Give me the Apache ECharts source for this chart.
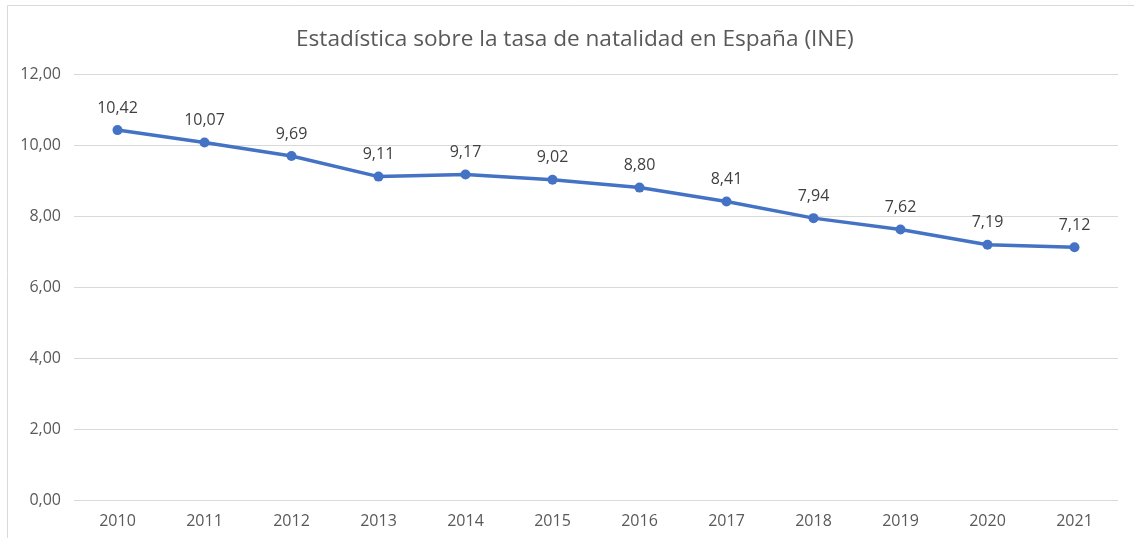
<!DOCTYPE html>
<html>
<head>
<meta charset="utf-8">
<script src="https://cdn.jsdelivr.net/npm/echarts@6/dist/echarts.min.js"></script>
<style>
  html, body { margin: 0; padding: 0; background: #fff; }
  #chart { width: 1134px; height: 538px; }
</style>
</head>
<body>
<div id="chart"></div>
<script>
// datos de natalidad (INE)
var years = ['2010', '2011', '2012', '2013', '2014', '2015', '2016', '2017', '2018', '2019', '2020', '2021'];
var tasa = [10.42, 10.07, 9.69, 9.11, 9.17, 9.02, 8.80, 8.41, 7.94, 7.62, 7.19, 7.12];

var fmt = function (v) { return v.toFixed(2).replace('.', ','); };

var chart = echarts.init(document.getElementById('chart'));
var option = {
  animation: false,
  textStyle: { fontFamily: 'Open Sans' },
  title: {
    text: 'Estadística sobre la tasa de natalidad en España (INE)',
    left: 291,
    top: 23,
    textStyle: { fontSize: 22.6, fontWeight: 'normal', color: '#595959', fontFamily: 'Open Sans' }
  },
  graphic: [{
    type: 'rect',
    silent: true,
    shape: { x: 7.5, y: 5.5, width: 1200, height: 600 },
    style: { fill: 'none', stroke: '#d9d9d9', lineWidth: 1 }
  }],
  grid: { left: 74, right: 16, top: 74, bottom: 38 },
  xAxis: {
    type: 'category',
    data: years,
    boundaryGap: true,
    axisLine: { show: false },
    axisTick: { show: false },
    axisLabel: { color: '#595959', fontSize: 16, margin: 13 }
  },
  yAxis: {
    type: 'value',
    min: 0,
    max: 12,
    interval: 2,
    axisLine: { show: false },
    axisTick: { show: false },
    splitLine: { lineStyle: { color: '#d9d9d9', width: 1 } },
    axisLabel: { color: '#595959', fontSize: 16, margin: 13, formatter: fmt }
  },
  series: [{
    type: 'line',
    data: tasa,
    symbol: 'circle',
    symbolSize: 10,
    lineStyle: { color: '#4472C4', width: 3.5 },
    itemStyle: { color: '#4472C4' },
    label: {
      show: true,
      position: 'top',
      distance: 9,
      color: '#404040',
      fontSize: 16,
      formatter: function (p) { return fmt(p.value); }
    }
  }]
};
chart.setOption(option);
</script>
</body>
</html>
